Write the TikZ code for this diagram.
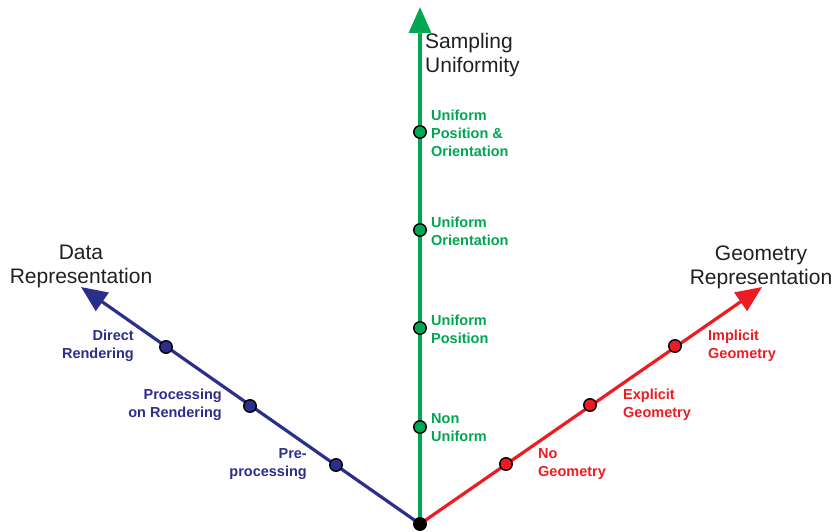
\documentclass[tikz,border=0pt]{standalone}
\usepackage{fontspec}
\setmainfont{Liberation Sans}
\usetikzlibrary{arrows.meta}
\definecolor{axblue}{RGB}{44,46,140}
\definecolor{axred}{RGB}{237,28,36}
\definecolor{axgreen}{RGB}{0,166,81}
\definecolor{ink}{RGB}{35,31,32}
\tikzset{
  axis/.style={line width=3.2pt,-{Triangle[length=26pt,width=22pt]}},
  pt/.style={circle,draw=black,line width=1.4pt,minimum size=12.5pt,inner sep=0pt},
  lab/.style={font=\fontsize{14.5}{18}\selectfont\bfseries,inner sep=0pt},
  title/.style={font=\fontsize{21}{24}\selectfont,text=ink,inner sep=0pt}
}
\begin{document}
\begin{tikzpicture}[x=1pt,y=-1pt]
\useasboundingbox (0,0) rectangle (835,532);
% origin and axis tips
\coordinate (O) at (420,524);
\coordinate (tg) at (420,7);
\coordinate (tb) at (81,287);
\coordinate (tr) at (762,287);
\draw[axis,axgreen] (O) -- (tg);
\draw[axis,axblue] (O) -- (tb);
\draw[axis,axred] (O) -- (tr);
% axis titles
\node[title,align=left,anchor=north west] (st) at (425,33) {Sampling\\Uniformity};
\node[title,align=center] (dr) at (81,266) {Data\\Representation};
\node[title,align=center] (gr) at (761,267) {Geometry\\Representation};
% sampling uniformity levels
\node[pt,fill=axgreen] (g1) at (420,427) {};
\node[pt,fill=axgreen] (g2) at (420,328) {};
\node[pt,fill=axgreen] (g3) at (420,230) {};
\node[pt,fill=axgreen] (g4) at (420,132) {};
\node[lab,text=axgreen,align=left,anchor=west] (lg1) at (431,428) {Non\\Uniform};
\node[lab,text=axgreen,align=left,anchor=west] (lg2) at (431,329) {Uniform\\Position};
\node[lab,text=axgreen,align=left,anchor=west] (lg3) at (431,231) {Uniform\\Orientation};
\node[lab,text=axgreen,align=left,anchor=west] (lg4) at (431,133) {Uniform\\Position \&\\Orientation};
% data representation levels
\node[pt,fill=axblue] (b1) at (336,465) {};
\node[pt,fill=axblue] (b2) at (250,406) {};
\node[pt,fill=axblue] (b3) at (166,347) {};
\node[lab,text=axblue,align=right,anchor=east] (lb1) at (307,464) {Pre-\\processing};
\node[lab,text=axblue,align=right,anchor=east] (lb2) at (222,405) {Processing\\on Rendering};
\node[lab,text=axblue,align=right,anchor=east] (lb3) at (134,346) {Direct\\Rendering};
% geometry representation levels
\node[pt,fill=axred] (r1) at (506,464) {};
\node[pt,fill=axred] (r2) at (590,405) {};
\node[pt,fill=axred] (r3) at (675,346) {};
\node[lab,text=axred,align=left,anchor=west] (lr1) at (538,464) {No\\Geometry};
\node[lab,text=axred,align=left,anchor=west] (lr2) at (623,405) {Explicit\\Geometry};
\node[lab,text=axred,align=left,anchor=west] (lr3) at (708,346) {Implicit\\Geometry};
% common origin
\node[pt,fill=black] (o) at (O) {};
\end{tikzpicture}
\end{document}
